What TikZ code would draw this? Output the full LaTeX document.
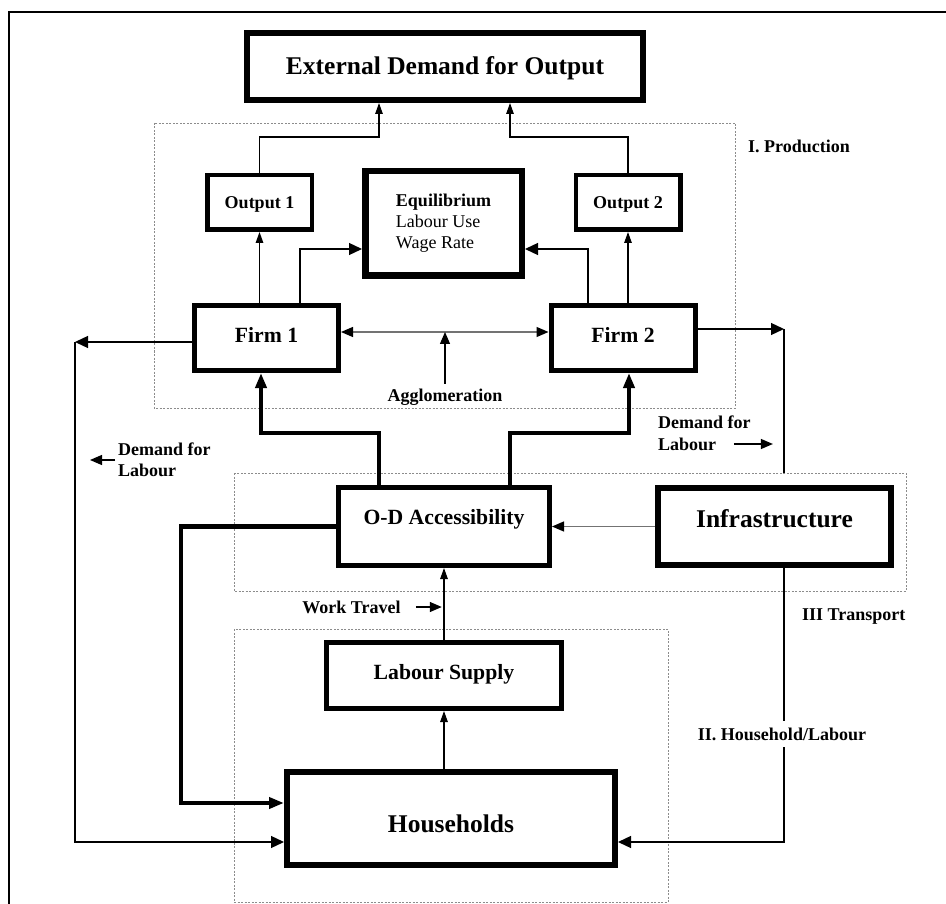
\documentclass[tikz,border=0pt]{standalone}
\usepackage{fontspec}
\setmainfont{Liberation Serif}
\usetikzlibrary{arrows.meta}
\begin{document}
\begin{tikzpicture}[x=1pt,y=-1pt,
  box/.style={draw, fill=white, inner sep=0pt, align=center},
  big/.style={font=\fontsize{25.5}{30}\selectfont\bfseries},
  mid/.style={font=\fontsize{21.7}{26}\selectfont\bfseries},
  small/.style={font=\fontsize{18}{21.5}\selectfont\bfseries},
  arr/.style={line width=1.3pt, -{Triangle[length=12pt,width=10pt]}},
  narr/.style={line width=1.3pt, -{Triangle[length=11pt,width=7.5pt]}},
  warr/.style={line width=1.3pt, -{Triangle[length=13pt,width=12pt]}},
  garr/.style={line width=1.3pt, draw=black!55, -{Triangle[length=12pt,width=10pt,color=black]}},
  dgarr/.style={line width=1.3pt, draw=black!55, {Triangle[length=12pt,width=10pt,color=black]}-{Triangle[length=12pt,width=10pt,color=black]}},
  tarr/.style={line width=4.2pt, -{Triangle[length=15pt,width=11pt]}},
  thinline/.style={line width=1.3pt},
  region/.style={draw=black!45, line width=0.8pt, dash pattern=on 2pt off 1.5pt}
]
\useasboundingbox (0,0) rectangle (946,904);
% frame
\draw[line width=2pt] (9,904) -- (9,12) -- (946,12);
% dashed regions
\draw[region] (154,123) rectangle (735,408);
\draw[region] (234,473) rectangle (906,591);
\draw[region] (234,629) rectangle (668,902);

% boxes
\node[box, big, line width=6pt, minimum width=396pt, minimum height=67pt, text height=17pt, text depth=0pt] (ext) at (445,66.5) {External Demand for Output};
\node[box, small, line width=4.5pt, minimum width=104.5pt, minimum height=54.5pt, text height=13pt, text depth=0pt] (out1) at (259.5,202.5) {Output 1};
\node[box, small, line width=4.5pt, minimum width=104.5pt, minimum height=54.5pt, text height=13pt, text depth=0pt] (out2) at (628,202.5) {Output 2};
\node[box, align=left, line width=6.5pt, minimum width=156.5pt, minimum height=104.5pt, font=\fontsize{18}{21}\selectfont] (eq) at (443.5,223.5) {\textbf{Equilibrium}\\Labour Use\\Wage Rate};
\node[box, mid, line width=5pt, minimum width=144pt, minimum height=65pt, text height=10pt, text depth=0pt] (firm1) at (266.5,338) {Firm 1};
\node[box, mid, line width=5pt, minimum width=144pt, minimum height=65pt, text height=10pt, text depth=0pt] (firm2) at (623,338) {Firm 2};
\node[box, mid, line width=5pt, minimum width=211pt, minimum height=78pt, text height=0pt, text depth=5pt] (od) at (444,526.5) {O-D Accessibility};
\node[box, big, line width=6pt, minimum width=233pt, minimum height=77pt, text height=2pt, text depth=0pt] (infra) at (774.5,526.5) {Infrastructure};
\node[box, mid, line width=5pt, minimum width=235pt, minimum height=66pt, text height=7pt, text depth=0pt] (ls) at (444,675.5) {Labour Supply};
\node[box, big, line width=6pt, minimum width=328pt, minimum height=93pt, text height=27pt, text depth=0pt] (hh) at (451,818.5) {Households};

% labels
\node[small, anchor=west, inner sep=0pt] (prod) at (748,146) {I. Production};
\node[small, inner sep=0pt] (agg) at (445,397) {Agglomeration};
\node[small, align=left, anchor=west, inner sep=0pt] (dl) at (118,460) {Demand for\\Labour};
\node[small, align=left, anchor=west, inner sep=0pt] (dr) at (658,433.5) {Demand for\\Labour};
\node[small, inner sep=0pt] (wt) at (351.5,607) {Work Travel};
\node[small, anchor=west, inner sep=0pt] (tr) at (802,617) {III Transport};

\coordinate (cL) at (75,342);
\coordinate (cR) at (784,329);

% outputs to external demand
\draw[narr] (out1.north) -- ++(0,-36) -| ([xshift=-66pt]ext.south);
\draw[narr] (out2.north) -- ++(0,-36) -| ([xshift=65pt]ext.south);
% firms to outputs and equilibrium
\draw[narr] (firm1.north -| out1.south) -- (out1.south);
\draw[narr] (firm2.north -| out2.south) -- (out2.south);
\draw[warr] ([xshift=33.5pt]firm1.north) |- ([yshift=-25.5pt]eq.west);
\draw[warr] ([xshift=-35pt]firm2.north) |- ([yshift=-25.5pt]eq.east);
% agglomeration
\draw[dgarr] ([yshift=6pt]firm1.east) -- ([yshift=6pt]firm2.west);
\draw[arr] ([yshift=5pt]agg.north) -- ([yshift=6pt]firm1.east -| agg.north);
% demand for labour loops
\draw[warr] ([yshift=-4pt]firm1.west) -- (cL);
\draw[warr] (cL) |- ([yshift=-23.5pt]hh.west);
\draw[warr] ([yshift=9pt]firm2.east) -- (cR);
\draw[thinline] (cR) -- (cR |- 0,473);
\draw[warr] (infra.south -| cR) |- ([yshift=-23.5pt]hh.east);
% accessibility to firms
\draw[tarr] ([xshift=-65pt]od.north) -- ++(0,-52) -| ([xshift=-5.5pt]firm1.south);
\draw[tarr] ([xshift=66pt]od.north) -- ++(0,-52) -| ([xshift=6pt]firm2.south);
% infrastructure to accessibility
\draw[garr] (infra.west) -- (od.east);
% accessibility to households
\draw[tarr] (od.west) -- ++(-155,0) |- ([yshift=15.5pt]hh.west);
% labour supply
\draw[narr] (ls.north) -- (od.south);
\draw[narr] (hh.north -| ls.south) -- (ls.south);
% small label arrows
\draw[arr] ([xshift=-3pt]dl.west) -- ++(-25,0);
\draw[arr] ([xshift=-17pt,yshift=-10.5pt]dr.east) -- ++(39,0);
\draw[arr] ([xshift=15pt]wt.east) -- ++(26,0);

\node[small, fill=white, inner xsep=2pt, inner ysep=7pt] (hl) at (782,734) {II. Household/Labour};
\end{tikzpicture}
\end{document}
